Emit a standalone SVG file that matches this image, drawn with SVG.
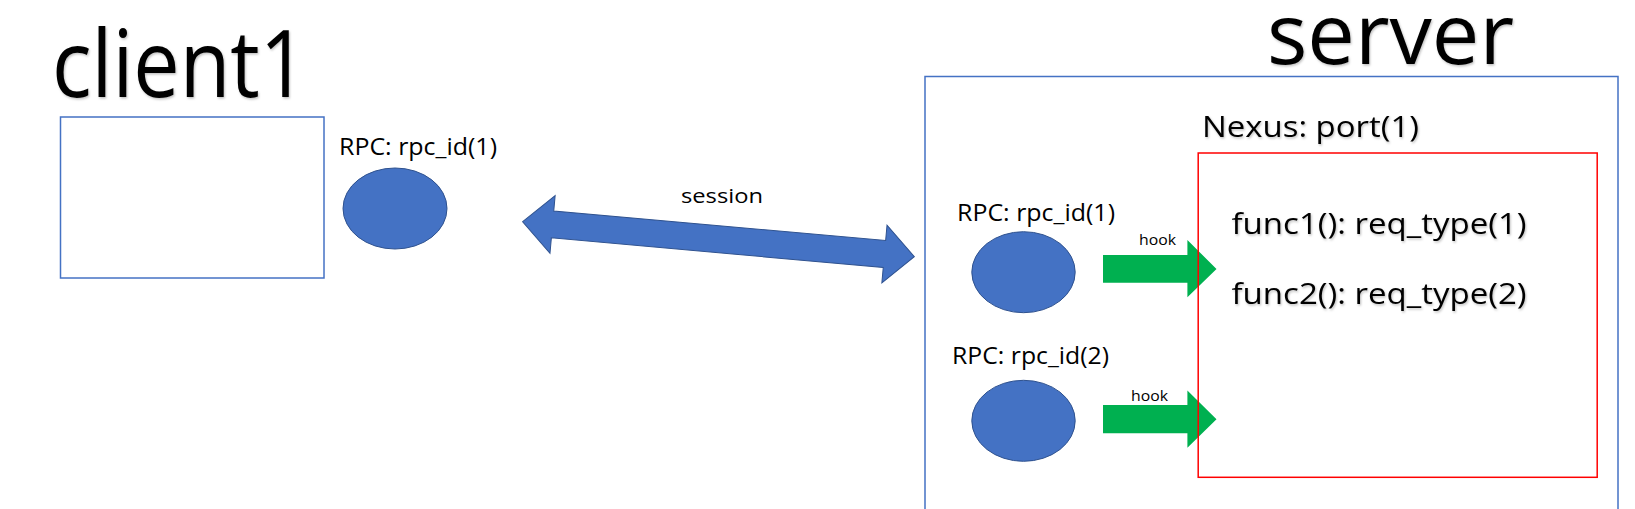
<svg xmlns="http://www.w3.org/2000/svg" width="1635" height="509" viewBox="0 0 1635 509">
<defs>
<filter id="sh" x="-5%" y="-20%" width="110%" height="140%">
<feDropShadow dx="1" dy="1.5" stdDeviation="1" flood-color="#000" flood-opacity="0.25"/>
</filter>
<style>
text{font-family:"Open Sans","Noto Sans","Liberation Sans",sans-serif;fill:#000}
.t{filter:url(#sh)}
.box{fill:#fff;stroke:#4472C4;stroke-width:1.5}
.red{fill:none;stroke:#FF0000;stroke-width:1.5}
.dot{fill:#4472C4;stroke:#2F528F;stroke-width:1}
.blue{fill:#4472C4;stroke:#2F528F;stroke-width:1}
.green{fill:#00B050}
</style>
</defs>
<rect width="1635" height="509" fill="#fff"/>

<g id="client1">
<text class="t" x="52" y="97" font-size="93" textLength="255" lengthAdjust="spacingAndGlyphs">client1</text>
<rect class="box" x="60.5" y="117" width="263.5" height="161"/>
</g>

<g id="client-rpc1">
<text x="339" y="155" font-size="23" textLength="158" lengthAdjust="spacingAndGlyphs">RPC: rpc_id(1)</text>
<ellipse class="dot" cx="395" cy="208.5" rx="52" ry="40.5"/>
</g>

<g id="server">
<text class="t" x="1267" y="63.5" font-size="85" textLength="247" lengthAdjust="spacingAndGlyphs">server</text>
<rect class="box" x="925" y="76.5" width="693" height="450"/>
</g>

<g id="server-rpc1">
<text x="957" y="220.5" font-size="23" textLength="158" lengthAdjust="spacingAndGlyphs">RPC: rpc_id(1)</text>
<ellipse class="dot" cx="1023.5" cy="272.2" rx="51.7" ry="40.5"/>
</g>

<g id="server-rpc2">
<text x="952" y="364" font-size="23" textLength="157" lengthAdjust="spacingAndGlyphs">RPC: rpc_id(2)</text>
<ellipse class="dot" cx="1023.5" cy="420.8" rx="51.7" ry="40.5"/>
</g>

<g id="connectors">
<polygon class="blue" transform="translate(718.5 239.2) rotate(5.1)" points="-196.6,0 -166.6,-29 -166.6,-13.5 166.6,-13.5 166.6,-29 196.6,0 166.6,29 166.6,13.5 -166.6,13.5 -166.6,29"/>
<text x="681" y="203" font-size="20" textLength="82" lengthAdjust="spacingAndGlyphs">session</text>
<polygon class="green" points="1103,255 1187.4,255 1187.4,240 1216.5,269 1187.4,297.3 1187.4,282.7 1103,282.7"/>
<text x="1139" y="244.5" font-size="15" textLength="37" lengthAdjust="spacingAndGlyphs">hook</text>
<polygon class="green" points="1103,405 1187.4,405 1187.4,390.5 1216.5,419.2 1187.4,447.7 1187.4,433.3 1103,433.3"/>
<text x="1131" y="400.5" font-size="15" textLength="37" lengthAdjust="spacingAndGlyphs">hook</text>
</g>

<g id="nexus">
<text class="t" x="1202" y="136.5" font-size="30" textLength="217" lengthAdjust="spacingAndGlyphs">Nexus: port(1)</text>
<rect class="red" x="1198.2" y="153" width="399" height="324.3"/>
<text class="t" x="1231.5" y="233.5" font-size="30" textLength="295" lengthAdjust="spacingAndGlyphs">func1(): req_type(1)</text>
<text class="t" x="1231.5" y="303.5" font-size="30" textLength="295" lengthAdjust="spacingAndGlyphs">func2(): req_type(2)</text>
</g>
</svg>
